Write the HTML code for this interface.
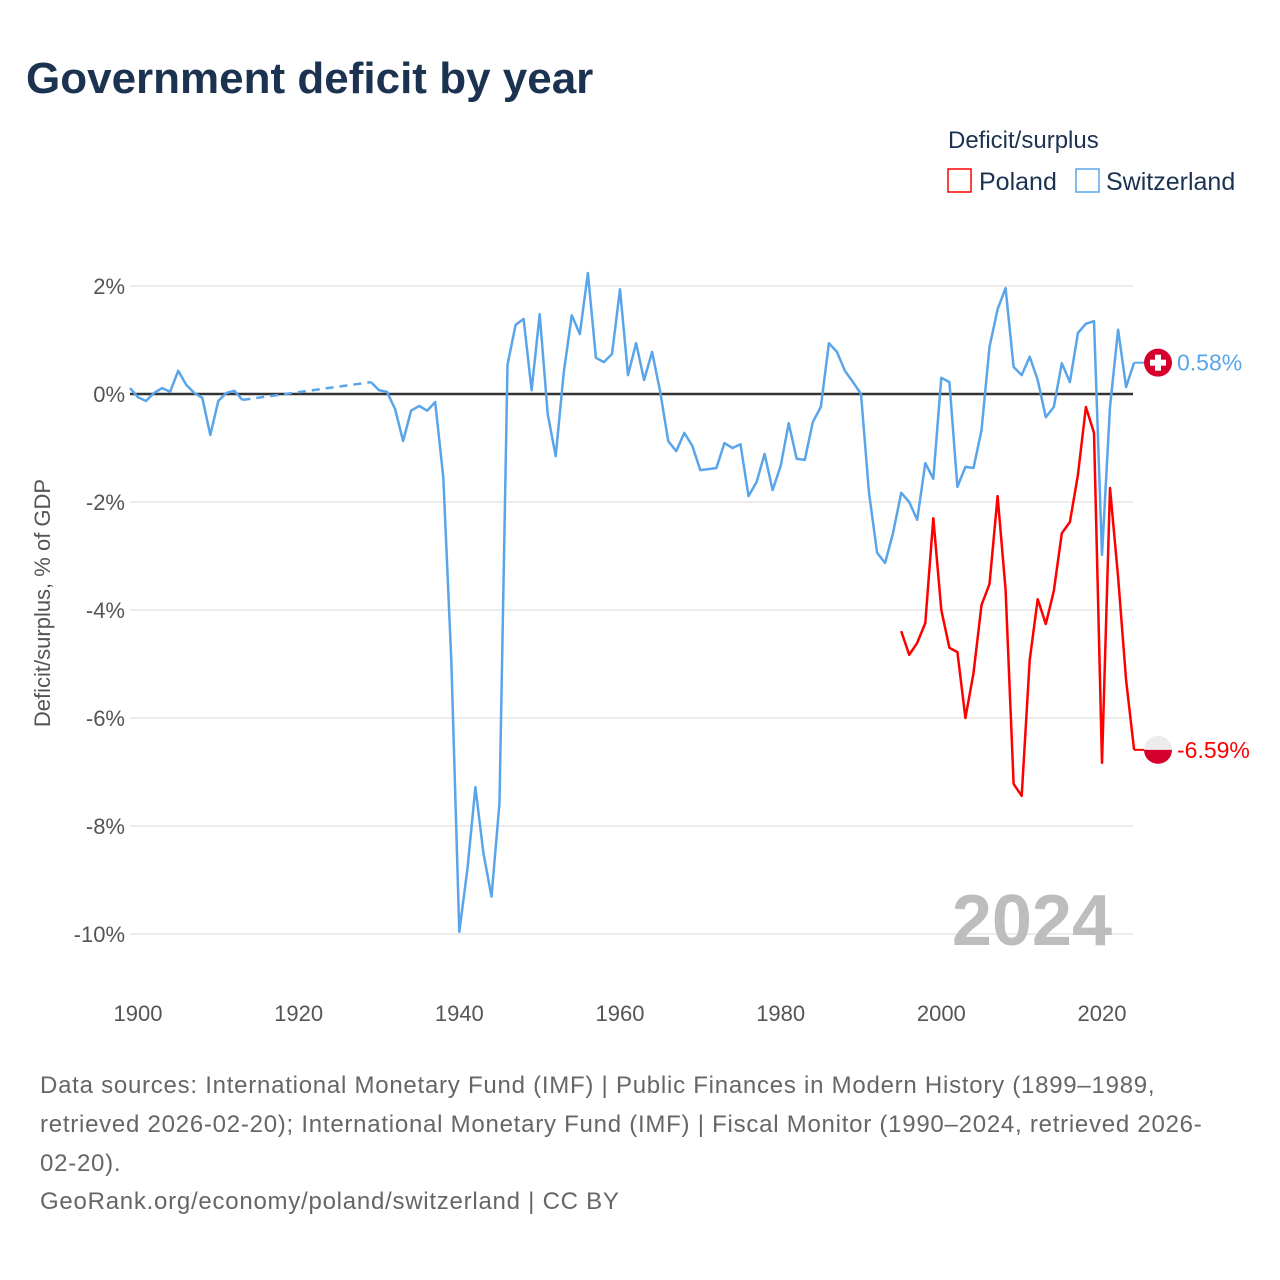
<!DOCTYPE html>
<html><head><meta charset="utf-8">
<style>
body{margin:0;background:#fff;font-family:"Liberation Sans",sans-serif;}
#wrap{position:relative;width:1280px;height:1280px;overflow:hidden;}
</style></head>
<body>
<div id="wrap">
<svg id="chart" width="1280" height="1280" style="position:absolute;left:0;top:0">
  <text x="26" y="93" font-size="44" font-weight="bold" fill="#1b3250">Government deficit by year</text>
  <text x="948" y="148" font-size="24" fill="#1b3250">Deficit/surplus</text>
  <g>
    <rect x="948" y="169" width="23" height="23" fill="none" stroke="#ff0000" stroke-width="1.5"/>
    <text x="979" y="190" font-size="25" fill="#1b3250">Poland</text>
  </g>
  <g>
    <rect x="1076" y="169" width="23" height="23" fill="none" stroke="#5aa5ea" stroke-width="1.5"/>
    <text x="1106" y="190" font-size="25" fill="#1b3250">Switzerland</text>
  </g>
  <text transform="translate(50,603) rotate(-90)" text-anchor="middle" font-size="22" fill="#555">Deficit/surplus, % of GDP</text>
  <g id="grid"></g>
  <g id="yticks"></g>
  <g id="xticks"></g>
  <text x="1112" y="945" text-anchor="end" font-size="72" font-weight="bold" fill="#bdbdbd">2024</text>
  <g id="series"></g>
  <g id="markers"></g>
  <g font-size="24" fill="#666" letter-spacing="0.75">
    <text x="40" y="1093">Data sources: International Monetary Fund (IMF) | Public Finances in Modern History (1899–1989,</text>
    <text x="40" y="1132">retrieved 2026-02-20); International Monetary Fund (IMF) | Fiscal Monitor (1990–2024, retrieved 2026-</text>
    <text x="40" y="1171">02-20).</text>
    <text x="40" y="1209">GeoRank.org/economy/poland/switzerland | CC BY</text>
  </g>
</svg>
</div>
<script>
const yTicks=[2,0,-2,-4,-6,-8,-10];
const xTicks=[1900,1920,1940,1960,1980,2000,2020];
const swissYears=[1899,1900,1901,1902,1903,1904,1905,1906,1907,1908,1909,1910,1911,1912,1913,1929,1930,1931,1932,1933,1934,1935,1936,1937,1938,1939,1940,1941,1942,1943,1944,1945,1946,1947,1948,1949,1950,1951,1952,1953,1954,1955,1956,1957,1958,1959,1960,1961,1962,1963,1964,1965,1966,1967,1968,1969,1970,1971,1972,1973,1974,1975,1976,1977,1978,1979,1980,1981,1982,1983,1984,1985,1986,1987,1988,1989,1990,1991,1992,1993,1994,1995,1996,1997,1998,1999,2000,2001,2002,2003,2004,2005,2006,2007,2008,2009,2010,2011,2012,2013,2014,2015,2016,2017,2018,2019,2020,2021,2022,2023,2024];
const swissValues=[0.11,-0.06,-0.13,0.02,0.11,0.04,0.43,0.17,0.02,-0.07,-0.76,-0.13,0.02,0.06,-0.11,0.22,0.07,0.04,-0.28,-0.87,-0.31,-0.22,-0.31,-0.15,-1.54,-4.93,-9.96,-8.8,-7.28,-8.5,-9.31,-7.57,0.54,1.28,1.39,0.07,1.48,-0.37,-1.15,0.41,1.46,1.11,2.24,0.67,0.59,0.74,1.94,0.35,0.94,0.26,0.78,0.04,-0.87,-1.06,-0.72,-0.96,-1.41,-1.39,-1.37,-0.91,-1.0,-0.93,-1.89,-1.63,-1.11,-1.78,-1.33,-0.54,-1.2,-1.22,-0.52,-0.24,0.94,0.78,0.43,0.22,0.0,-1.83,-2.94,-3.13,-2.57,-1.83,-2.0,-2.33,-1.28,-1.57,0.3,0.22,-1.72,-1.35,-1.37,-0.67,0.87,1.57,1.96,0.5,0.35,0.69,0.26,-0.43,-0.24,0.57,0.22,1.13,1.3,1.35,-2.98,-0.24,1.19,0.13,0.58];
const polandYears=[1995,1996,1997,1998,1999,2000,2001,2002,2003,2004,2005,2006,2007,2008,2009,2010,2011,2012,2013,2014,2015,2016,2017,2018,2019,2020,2021,2022,2023,2024];
const polandValues=[-4.39,-4.83,-4.61,-4.24,-2.3,-4.0,-4.7,-4.78,-6.0,-5.17,-3.91,-3.52,-1.89,-3.63,-7.22,-7.44,-4.93,-3.8,-4.26,-3.65,-2.58,-2.37,-1.5,-0.24,-0.72,-6.83,-1.74,-3.39,-5.3,-6.59];

const NS="http://www.w3.org/2000/svg";
const X=y=>138+(y-1900)*964/120;
const Y=v=>394-v*54;
function mk(tag,attrs,parent){const e=document.createElementNS(NS,tag);for(const k in attrs)e.setAttribute(k,attrs[k]);parent.appendChild(e);return e;}
const grid=document.getElementById('grid'),yt=document.getElementById('yticks'),xt=document.getElementById('xticks'),ser=document.getElementById('series'),mkG=document.getElementById('markers');
yTicks.forEach(v=>{
  const l=mk('line',{x1:130,x2:1133,y1:Y(v),y2:Y(v),stroke:'#e6e6e6','stroke-width':1.5},grid);
  
  
  const t=mk('text',{x:125,y:Y(v)+8,'text-anchor':'end','font-size':22,fill:'#555'},yt);
  t.textContent=v+'%';
  
  
});
xTicks.forEach(y=>{
  const t=mk('text',{x:X(y),y:1021,'text-anchor':'middle','font-size':22,fill:'#555'},xt);
  t.textContent=y;
  
  
});
const zero=mk('line',{x1:130,x2:1133,y1:Y(0),y2:Y(0),stroke:'#333','stroke-width':2.5},grid);



function drawSeries(years,vals,color,name){
  let seg=[];const segs=[];
  for(let i=0;i<years.length;i++){
    if(i>0&&years[i]-years[i-1]>1){
      segs.push(seg);seg=[];
      const d=mk('line',{x1:X(years[i-1]),y1:Y(vals[i-1]),x2:X(years[i]),y2:Y(vals[i]),stroke:color,'stroke-width':2.5,'stroke-dasharray':'8,6'},ser);
      
      
    }
    seg.push(X(years[i]).toFixed(1)+','+Y(vals[i]).toFixed(1));
  }
  segs.push(seg);
  segs.forEach(s=>{
    const p=mk('polyline',{points:s.join(' '),fill:'none',stroke:color,'stroke-width':2.5,'stroke-linejoin':'round'},ser);
    
    
  });
  const lv=vals[vals.length-1],ly=years[years.length-1];
  const c=mk('line',{x1:X(ly),y1:Y(lv),x2:1146,y2:Y(lv),stroke:color,'stroke-width':2},ser);
  
  
  return Y(lv);
}
const ys=drawSeries(swissYears,swissValues,'#5aa5ea','switzerland');
const yp=drawSeries(polandYears,polandValues,'#ff0000','poland');

const sf=mk('g',{},mkG);


mk('circle',{cx:1158,cy:ys,r:14,fill:'#d5002b'},sf);
mk('rect',{x:1155,y:ys-8,width:6,height:16,fill:'#fff'},sf);
mk('rect',{x:1150,y:ys-3,width:16,height:6,fill:'#fff'},sf);
const st=mk('text',{x:1177,y:ys+8,'font-size':23,fill:'#5aa5ea'},mkG);
st.textContent=swissValues[swissValues.length-1].toFixed(2)+'%';


const pf=mk('g',{},mkG);


mk('path',{d:`M1144,${yp} A14,14 0 0 1 1172,${yp} Z`,fill:'#ececec'},pf);
mk('path',{d:`M1144,${yp} A14,14 0 0 0 1172,${yp} Z`,fill:'#d5002b'},pf);
const pt=mk('text',{x:1177,y:yp+8,'font-size':23,fill:'#ff0000'},mkG);
pt.textContent=polandValues[polandValues.length-1].toFixed(2)+'%';


</script>
</body></html>
